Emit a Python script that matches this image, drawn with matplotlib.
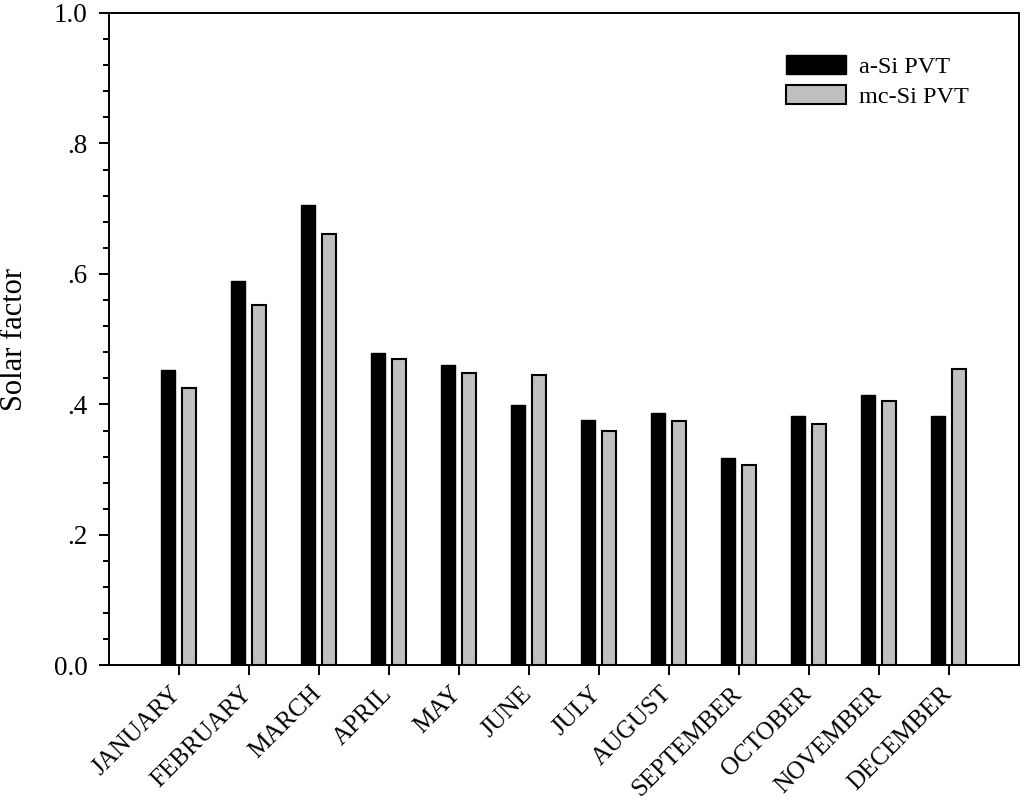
import matplotlib
matplotlib.use('Agg')
import matplotlib.pyplot as plt
import matplotlib.transforms as mtransforms
import numpy as np

# monthly solar factor for the two PVT collectors
months = ['JANUARY', 'FEBRUARY', 'MARCH', 'APRIL', 'MAY', 'JUNE', 'JULY',
          'AUGUST', 'SEPTEMBER', 'OCTOBER', 'NOVEMBER', 'DECEMBER']
a_si = [0.453, 0.590, 0.706, 0.479, 0.461, 0.399, 0.376, 0.387, 0.318, 0.383, 0.415, 0.382]
mc_si = [0.425, 0.552, 0.661, 0.470, 0.448, 0.445, 0.360, 0.374, 0.307, 0.370, 0.406, 0.454]

yticks = [0.0, 0.2, 0.4, 0.6, 0.8, 1.0]
ytick_labels = ['0.0', '.2', '.4', '.6', '.8', '1.0']

plt.rcParams['font.family'] = ['Liberation Serif', 'DejaVu Serif']

fig = plt.figure(figsize=(10.24, 8.02), dpi=100)
ax = fig.add_axes([0.1064, 0.1702, 0.8887, 0.8136])

x = np.arange(len(months))
ax.bar(x - 0.15, a_si, width=0.2, color='black', edgecolor='black',
       linewidth=1.0, label='a-Si PVT')
ax.bar(x + 0.15, mc_si, width=0.2, color='#c0c0c0', edgecolor='black',
       linewidth=1.5, label='mc-Si PVT')

ax.set_xlim(-1, 12)
ax.set_ylim(0, 1.0)

ax.set_xticks(x)
ax.set_xticklabels(months, rotation=45, ha='right', fontsize=18)
ax.set_yticks(yticks)
ax.set_yticklabels(ytick_labels, fontsize=19.5)
ax.set_yticks(np.arange(0, 1.0001, 0.04), minor=True)

ax.tick_params(axis='both', which='major', direction='out', length=7.2,
               width=1.4, pad=8)
ax.tick_params(axis='y', which='minor', direction='out', length=4.3, width=1.4)
ax.tick_params(axis='x', which='major', pad=5)

# nudge the slanted month names a bit to the right
shift = mtransforms.ScaledTranslation(7 / 100, 0, fig.dpi_scale_trans)
for lab in ax.get_xticklabels():
    lab.set_transform(lab.get_transform() + shift)

for sp in ax.spines.values():
    sp.set_linewidth(1.4)

ax.set_ylabel('Solar factor', fontsize=22, labelpad=18)

ax.legend(loc='upper left', bbox_to_anchor=(0.7676, 0.9313),
          bbox_transform=fig.transFigure, frameon=False, fontsize=17.5,
          handlelength=2.47, handleheight=0.82, handletextpad=0.55,
          labelspacing=0.3, borderpad=0, borderaxespad=0)

fig.savefig('out.png', dpi=100)
